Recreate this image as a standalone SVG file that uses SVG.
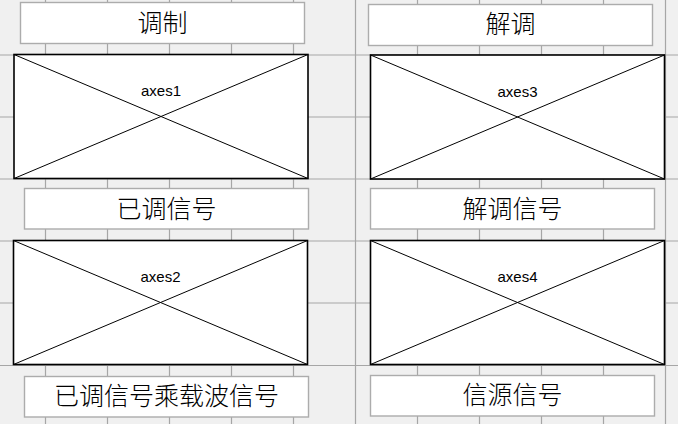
<svg xmlns="http://www.w3.org/2000/svg" width="678" height="424" viewBox="0 0 678 424">
<style>
.grid line{stroke:#a6a6a6;stroke-width:1.2}
.tb{fill:#ffffff;stroke:#acacac;stroke-width:1.4}
.ax{fill:#ffffff;stroke:#000000;stroke-width:1.6}
.diag{stroke:#000000;stroke-width:1}
.cj{font-family:"Noto Sans CJK SC","Noto Sans CJK JP",sans-serif;font-size:25px;font-weight:300;fill:#000000;text-anchor:middle}
.lab{font-family:"Liberation Sans",Arial,sans-serif;font-size:15px;fill:#000000;text-anchor:middle}
</style>
<rect x="0" y="0" width="678" height="424" fill="#f0f0f0"/>
<g id="grid" class="grid">
<line x1="45.5" y1="0" x2="45.5" y2="424"/>
<line x1="107.5" y1="0" x2="107.5" y2="424"/>
<line x1="169.5" y1="0" x2="169.5" y2="424"/>
<line x1="231.5" y1="0" x2="231.5" y2="424"/>
<line x1="293.5" y1="0" x2="293.5" y2="424"/>
<line x1="355.5" y1="0" x2="355.5" y2="424"/>
<line x1="417.5" y1="0" x2="417.5" y2="424"/>
<line x1="479.5" y1="0" x2="479.5" y2="424"/>
<line x1="541.5" y1="0" x2="541.5" y2="424"/>
<line x1="603.5" y1="0" x2="603.5" y2="424"/>
<line x1="665.5" y1="0" x2="665.5" y2="424"/>
<line x1="0" y1="55" x2="678" y2="55"/>
<line x1="0" y1="117" x2="678" y2="117"/>
<line x1="0" y1="179" x2="678" y2="179"/>
<line x1="0" y1="241" x2="678" y2="241"/>
<line x1="0" y1="303" x2="678" y2="303"/>
<line x1="0" y1="365.5" x2="678" y2="365.5"/>
</g>
<g id="text_modulate">
<rect class="tb" x="20.5" y="2.5" width="284" height="41"/>
<text class="cj" x="162.5" y="31.5">调制</text>
</g>
<g id="text_demodulate">
<rect class="tb" x="368.5" y="4.5" width="284" height="41"/>
<text class="cj" x="510.5" y="33">解调</text>
</g>
<g id="axes1">
<rect class="ax" x="14" y="54.5" width="294" height="124"/>
<line class="diag" x1="14" y1="54.5" x2="308" y2="178.5"/>
<line class="diag" x1="308" y1="54.5" x2="14" y2="178.5"/>
<text class="lab" x="161" y="96">axes1</text>
</g>
<g id="axes3">
<rect class="ax" x="370.5" y="55" width="294" height="124"/>
<line class="diag" x1="370.5" y1="55" x2="664.5" y2="179"/>
<line class="diag" x1="664.5" y1="55" x2="370.5" y2="179"/>
<text class="lab" x="517.5" y="96.5">axes3</text>
</g>
<g id="text_modulated">
<rect class="tb" x="24.5" y="188.5" width="284" height="40.5"/>
<text class="cj" x="166.5" y="217.5">已调信号</text>
</g>
<g id="text_demodulated">
<rect class="tb" x="370.5" y="188.5" width="284" height="40.5"/>
<text class="cj" x="512.5" y="217.5">解调信号</text>
</g>
<g id="axes2">
<rect class="ax" x="13.5" y="240.5" width="294" height="124"/>
<line class="diag" x1="13.5" y1="240.5" x2="307.5" y2="364.5"/>
<line class="diag" x1="307.5" y1="240.5" x2="13.5" y2="364.5"/>
<text class="lab" x="160.5" y="281.5">axes2</text>
</g>
<g id="axes4">
<rect class="ax" x="370.5" y="240.5" width="294" height="124"/>
<line class="diag" x1="370.5" y1="240.5" x2="664.5" y2="364.5"/>
<line class="diag" x1="664.5" y1="240.5" x2="370.5" y2="364.5"/>
<text class="lab" x="517.5" y="281.5">axes4</text>
</g>
<g id="text_modulated_carrier">
<rect class="tb" x="24.5" y="376.5" width="284" height="40.5"/>
<text class="cj" x="166.5" y="404.5">已调信号乘载波信号</text>
</g>
<g id="text_source">
<rect class="tb" x="370.5" y="375.5" width="284" height="40.5"/>
<text class="cj" x="512.5" y="404">信源信号</text>
</g>
</svg>
